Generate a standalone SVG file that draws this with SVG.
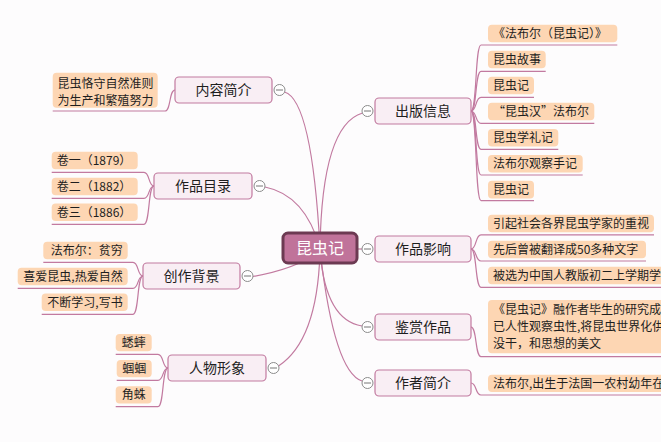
<svg xmlns="http://www.w3.org/2000/svg" width="661" height="442" viewBox="0 0 661 442">
<style>
text{font-family:"Noto Sans CJK SC","Noto Sans",sans-serif;fill:#1e1e1e}
.conn path{fill:none;stroke:#c27aa0;stroke-width:1.2}
.main rect{fill:#f9eef4;stroke:#c27aa0;stroke-width:1.2}
.main text{font-size:14px;text-anchor:middle}
.leaf rect{fill:#fdd6b3}
.leaf text{font-size:12px}
.tg circle{fill:#fff;stroke:#8c8c8c;stroke-width:1}
.tg path{stroke:#777;stroke-width:1}
</style>
<defs>
<g id="tgl" class="tg"><circle r="5.5"/><path d="M-3.5,0H3.5"/></g>
</defs>
<rect width="661" height="442" fill="#fdfcfd"/>
<g id="connectors" class="conn">
<path d="M320,248 Q312,100 284.5,92"/>
<path d="M320,248 Q305,195 265,187"/>
<path d="M320,250 Q300,268 253,276.5"/>
<path d="M320,250 Q318,340 278.5,366"/>
<path d="M320,248 Q322,125 362.5,113"/>
<path d="M357,249 L362,249"/>
<path d="M320,250 Q325,320 362,326"/>
<path d="M320,250 Q334,372 362,381"/>
<path d="M471,111 C477,111 475,45 481,45 L617.3,45"/>
<path d="M471,111 C477,111 475,71.3 481,71.3 L545.7,71.3"/>
<path d="M471,111 C477,111 475,97.3 481,97.3 L534,97.3"/>
<path d="M471,111 C477,111 475,123.3 481,123.3 L594.3,123.3"/>
<path d="M471,111 C477,111 475,149.3 481,149.3 L558.3,149.3"/>
<path d="M471,111 C477,111 475,175 481,175 L582.7,175"/>
<path d="M471,111 C477,111 475,200.7 481,200.7 L534,200.7"/>
<path d="M471,249 C477,249 475,234.9 481,234.9 L654,234.9"/>
<path d="M471,249 C477,249 475,261 481,261 L646,261"/>
<path d="M471,249 C477,249 475,287.3 481,287.3 L662,287.3"/>
<path d="M471,327 C477,327 475,356.7 481,356.7 L662,356.7"/>
<path d="M471,383 C477,383 475,395 481,395 L662,395"/>
<path d="M175,90 C169,90 171,111 165,111 L52.7,111"/>
<path d="M154,186 C148,186 150,172.3 144,172.3 L51.7,172.3"/>
<path d="M154,186 C148,186 150,198.3 144,198.3 L51.7,198.3"/>
<path d="M154,186 C148,186 150,224.3 144,224.3 L51.7,224.3"/>
<path d="M143,276 C137,276 139,262.3 133,262.3 L43.3,262.3"/>
<path d="M143,276 C137,276 139,288.3 133,288.3 L17.7,288.3"/>
<path d="M143,276 C137,276 139,314.3 133,314.3 L41.7,314.3"/>
<path d="M168,368 C162,368 164,354.3 158,354.3 L115.7,354.3"/>
<path d="M168,368 C162,368 164,380.3 158,380.3 L116.7,380.3"/>
<path d="M168,368 C162,368 164,406.7 158,406.7 L115.7,406.7"/>
</g>
<g id="root">
<rect x="283" y="233" width="74" height="30" rx="5" fill="#c0739a" stroke="#6c3a52" stroke-width="3"/>
<text x="320" y="253.5" font-size="16" text-anchor="middle" style="fill:#fff">昆虫记</text>
</g>
<g id="n-neirong" class="main"><rect x="175" y="77" width="97" height="26" rx="4"/><text x="223.5" y="95">内容简介</text><use href="#tgl" x="279.5" y="90"/></g>
<g id="n-mulu" class="main"><rect x="154" y="173" width="98" height="26" rx="4"/><text x="203" y="191">作品目录</text><use href="#tgl" x="259.5" y="186"/></g>
<g id="n-beijing" class="main"><rect x="143" y="263" width="97" height="26" rx="4"/><text x="191.5" y="281">创作背景</text><use href="#tgl" x="247.5" y="276"/></g>
<g id="n-renwu" class="main"><rect x="168" y="355" width="98" height="26" rx="4"/><text x="217" y="373">人物形象</text><use href="#tgl" x="273.5" y="368"/></g>
<g id="n-chuban" class="main"><rect x="375" y="98" width="96" height="26" rx="4"/><text x="423" y="116">出版信息</text><use href="#tgl" x="367.5" y="111"/></g>
<g id="n-yingxiang" class="main"><rect x="375" y="236" width="96" height="26" rx="4"/><text x="423" y="254">作品影响</text><use href="#tgl" x="367.5" y="249"/></g>
<g id="n-jianshang" class="main"><rect x="375" y="314" width="96" height="26" rx="4"/><text x="423" y="332">鉴赏作品</text><use href="#tgl" x="367.5" y="327"/></g>
<g id="n-zuozhe" class="main"><rect x="375" y="370" width="96" height="26" rx="4"/><text x="423" y="388">作者简介</text><use href="#tgl" x="367.5" y="383"/></g>
<g id="l-cb1" class="leaf"><rect x="488" y="24.7" width="129.3" height="17.6" rx="4"/><text x="493" y="37.8">《法布尔（昆虫记）》</text></g>
<g id="l-cb2" class="leaf"><rect x="488" y="50.7" width="57.7" height="17.6" rx="4"/><text x="493" y="63.8">昆虫故事</text></g>
<g id="l-cb3" class="leaf"><rect x="488" y="76.7" width="46" height="17.6" rx="4"/><text x="493" y="89.8">昆虫记</text></g>
<g id="l-cb4" class="leaf"><rect x="488" y="102.7" width="106.3" height="17.6" rx="4"/><text x="493" y="115.8">“昆虫汉”法布尔</text></g>
<g id="l-cb5" class="leaf"><rect x="488" y="128.9" width="70.3" height="17.6" rx="4"/><text x="493" y="142">昆虫学礼记</text></g>
<g id="l-cb6" class="leaf"><rect x="488" y="155" width="94.7" height="17.6" rx="4"/><text x="493" y="168.1">法布尔观察手记</text></g>
<g id="l-cb7" class="leaf"><rect x="488" y="180.8" width="46" height="17.6" rx="4"/><text x="493" y="193.9">昆虫记</text></g>
<g id="l-yx1" class="leaf"><rect x="488" y="214.7" width="166" height="17.6" rx="4"/><text x="493" y="227.8">引起社会各界昆虫学家的重视</text></g>
<g id="l-yx2" class="leaf"><rect x="488" y="240.7" width="158" height="17.6" rx="4"/><text x="493" y="253.8">先后曾被翻译成50多种文字</text></g>
<g id="l-yx3" class="leaf"><rect x="488" y="266.7" width="200" height="17.6" rx="4"/><text x="493" y="279.8">被选为中国人教版初二上学期学</text></g>
<g id="l-js1" class="leaf"><rect x="488" y="300" width="200" height="53.3" rx="4"/><text x="493" y="314.3">《昆虫记》融作者毕生的研究成</text><text x="493" y="331">已人性观察虫性,将昆虫世界化供</text><text x="493" y="347.6">没干，和思想的美文</text></g>
<g id="l-zz1" class="leaf"><rect x="488" y="374.7" width="200" height="17.3" rx="4"/><text x="493" y="387.7">法布尔,出生于法国一农村幼年在</text></g>
<g id="l-nr1" class="leaf"><rect x="52.7" y="72.7" width="105" height="35" rx="4"/><text x="57.5" y="87.6">昆虫恪守自然准则</text><text x="57.5" y="105">为生产和繁殖努力</text></g>
<g id="l-ml1" class="leaf"><rect x="51.7" y="151.7" width="86" height="17.5" rx="4"/><text x="56.7" y="164.8">卷一（1879）</text></g>
<g id="l-ml2" class="leaf"><rect x="51.7" y="177.7" width="86" height="17.5" rx="4"/><text x="56.7" y="190.8">卷二（1882）</text></g>
<g id="l-ml3" class="leaf"><rect x="51.7" y="203.5" width="86" height="17.5" rx="4"/><text x="56.7" y="216.6">卷三（1886）</text></g>
<g id="l-bj1" class="leaf"><rect x="43.3" y="241.7" width="84.4" height="17.5" rx="4"/><text x="122.7" y="254.8" text-anchor="end">法布尔：贫穷</text></g>
<g id="l-bj2" class="leaf"><rect x="17.7" y="267.7" width="110" height="17.5" rx="4"/><text x="122.7" y="280.8" text-anchor="end">喜爱昆虫,热爱自然</text></g>
<g id="l-bj3" class="leaf"><rect x="41.7" y="293.5" width="86" height="17.5" rx="4"/><text x="122.7" y="306.6" text-anchor="end">不断学习,写书</text></g>
<g id="l-rw1" class="leaf"><rect x="115.7" y="334" width="36" height="17.3" rx="4"/><text x="133.7" y="347" text-anchor="middle">蟋蟀</text></g>
<g id="l-rw2" class="leaf"><rect x="116.7" y="360" width="35" height="17.3" rx="4"/><text x="134.2" y="373" text-anchor="middle">蝈蝈</text></g>
<g id="l-rw3" class="leaf"><rect x="115.7" y="386.2" width="36" height="17.3" rx="4"/><text x="133.7" y="399.2" text-anchor="middle">角蛛</text></g>
</svg>
